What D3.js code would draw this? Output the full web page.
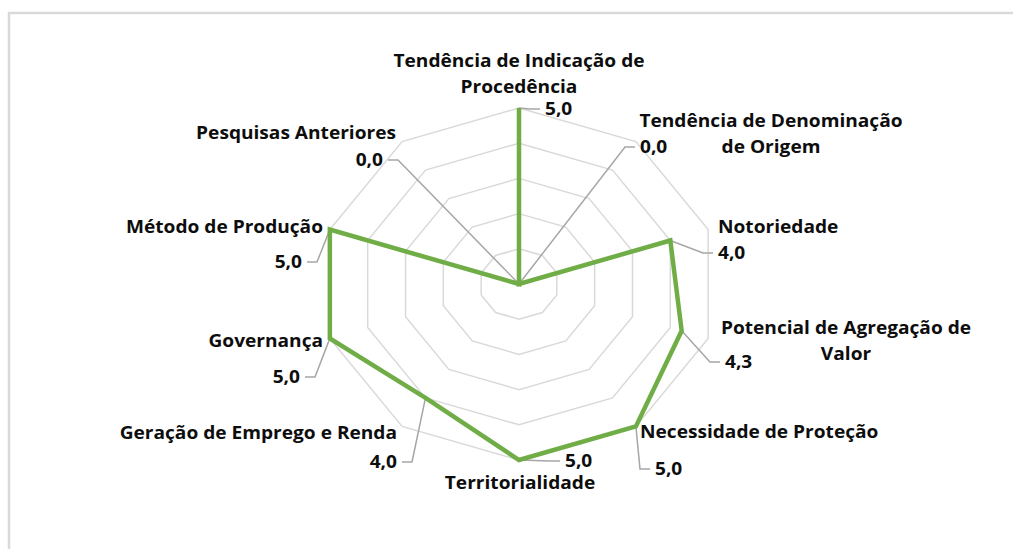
<!DOCTYPE html>
<html>
<head>
<meta charset="utf-8">
<script src="https://cdn.jsdelivr.net/npm/d3@7"></script>
<style>
  html, body { margin: 0; padding: 0; background: #fff; }
  svg { display: block; }
  text { font-family: "Open Sans", "Noto Sans", sans-serif; font-weight: 700; fill: #0d0d0d; }
</style>
</head>
<body>
<svg id="chart" width="1014" height="549"></svg>
<script>
// ---- data ----
const categories = [
  "Tendência de Indicação de Procedência",
  "Tendência de Denominação de Origem",
  "Notoriedade",
  "Potencial de Agregação de Valor",
  "Necessidade de Proteção",
  "Territorialidade",
  "Geração de Emprego e Renda",
  "Governança",
  "Método de Produção",
  "Pesquisas Anteriores"
];
const values = [5.0, 0.0, 4.0, 4.3, 5.0, 5.0, 4.0, 5.0, 5.0, 0.0];
const gridTicks = [1, 2, 3, 4, 5];

// ---- layout (not data) ----
const W = 1014, H = 549;
const cx = 519, cy = 284, R = 176, stretchX = 1.13, textScaleX = 1.125;
const fontSize = 17;
// category label lines, anchor x, baseline y of first line, text-anchor
const catLayout = [
  { lines: ["Tendência de Indicação de", "Procedência"], x: 519, y: 67, anchor: "middle" },
  { lines: ["Tendência de Denominação", "de Origem"], x: 771, y: 127, anchor: "middle" },
  { lines: ["Notoriedade"], x: 718, y: 233, anchor: "start" },
  { lines: ["Potencial de Agregação de", "Valor"], x: 846, y: 334, anchor: "middle" },
  { lines: ["Necessidade de Proteção"], x: 640, y: 438, anchor: "start" },
  { lines: ["Territorialidade"], x: 520, y: 489, anchor: "middle" },
  { lines: ["Geração de Emprego e Renda"], x: 397, y: 439, anchor: "end" },
  { lines: ["Governança"], x: 323, y: 347, anchor: "end" },
  { lines: ["Método de Produção"], x: 323, y: 233, anchor: "end" },
  { lines: ["Pesquisas Anteriores"], x: 396, y: 139, anchor: "end" }
];
const lineGap = 25.5;
// data label anchor positions
const valLayout = [
  { x: 545, y: 115, anchor: "start" },
  { x: 640, y: 153, anchor: "start" },
  { x: 718, y: 259, anchor: "start" },
  { x: 725, y: 368, anchor: "start" },
  { x: 655, y: 475, anchor: "start" },
  { x: 565, y: 467, anchor: "start" },
  { x: 397, y: 468, anchor: "end" },
  { x: 300, y: 383, anchor: "end" },
  { x: 302, y: 268, anchor: "end" },
  { x: 383, y: 166, anchor: "end" }
];

const svg = d3.select("#chart");
svg.append("rect").attr("width", W).attr("height", H).attr("fill", "#fff");

// border (top + left)
svg.append("path")
  .attr("d", `M9,${H} L9,13 L${W - 1},13`)
  .attr("fill", "none").attr("stroke", "#d9d9d9").attr("stroke-width", 2.5);

const r = d3.scaleLinear().domain([0, 5]).range([0, R]);
const angle = d3.scaleLinear().domain([0, categories.length]).range([0, 2 * Math.PI]);
const px = (i, v) => cx + stretchX * r(v) * Math.sin(angle(i));
const py = (i, v) => cy - r(v) * Math.cos(angle(i));

// grid rings
const g = svg.append("g");
gridTicks.forEach(t => {
  const pts = categories.map((c, i) => [px(i, t), py(i, t)]);
  g.append("path")
    .attr("d", d3.line().curve(d3.curveLinearClosed)(pts))
    .attr("fill", "none").attr("stroke", "#d9d9d9").attr("stroke-width", 1.5);
});

// leader lines
const fmt = v => d3.format(".1f")(v).replace(".", ",");
values.forEach((v, i) => {
  const L = valLayout[i];
  const side = L.anchor === "start" ? -1 : 1;
  const midY = L.y - 6;
  const endX = L.x + side * 5;
  const elbowX = endX + side * 10;
  g.append("path")
    .attr("d", d3.line()([[px(i, v), py(i, v)], [elbowX, midY], [endX, midY]]))
    .attr("fill", "none").attr("stroke", "#a6a6a6").attr("stroke-width", 1.5);
});

// series
const seriesPts = values.map((v, i) => [px(i, v), py(i, v)]);
g.append("path")
  .attr("d", d3.line().curve(d3.curveLinearClosed)(seriesPts))
  .attr("fill", "none").attr("stroke", "#70ad47").attr("stroke-width", 4.5)
  .attr("stroke-linejoin", "miter");

// text helper
function addText(x, y, str, anchor) {
  svg.append("text")
    .attr("transform", `translate(${x},${y}) scale(${textScaleX},1)`)
    .attr("text-anchor", anchor)
    .attr("font-size", fontSize)
    .text(str);
}

// data labels
values.forEach((v, i) => {
  const L = valLayout[i];
  addText(L.x, L.y, fmt(v), L.anchor);
});

// category labels
categories.forEach((c, i) => {
  const L = catLayout[i];
  L.lines.forEach((ln, k) => addText(L.x, L.y + k * lineGap, ln, L.anchor));
});
</script>
</body>
</html>
